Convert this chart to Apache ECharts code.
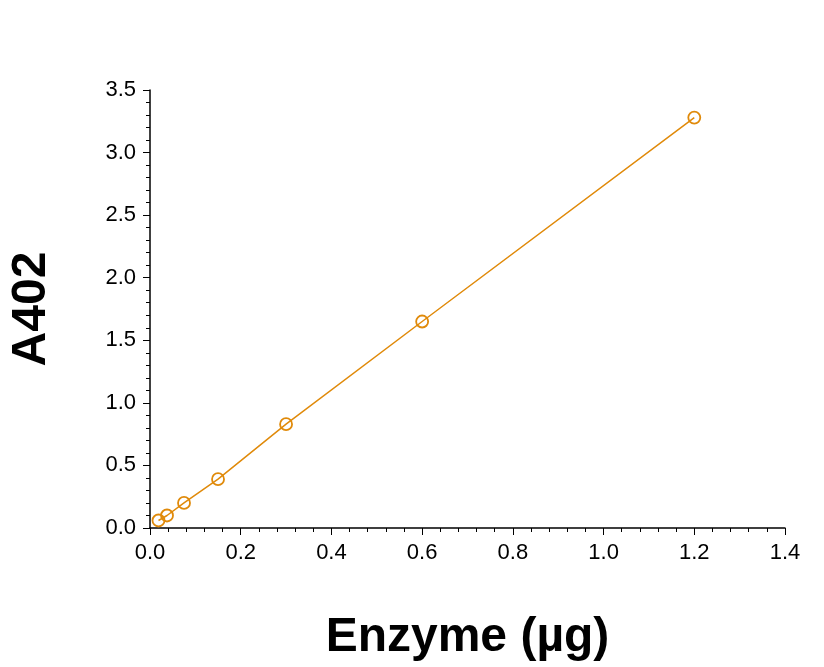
<!DOCTYPE html>
<html><head><meta charset="utf-8">
<script src="https://cdn.jsdelivr.net/npm/echarts@6/dist/echarts.min.js"></script>
<style>html,body{margin:0;background:#fff}#c{width:824px;height:667px}</style>
</head><body><div id="c"></div>
<script>
// enzyme amount (ug) vs absorbance at 402 nm
const enzyme = [0.01875, 0.0375, 0.075, 0.15, 0.3, 0.6, 1.2];
const a402 = [0.06, 0.10, 0.20, 0.39, 0.83, 1.65, 3.28];
const lineColor = '#E08A0A';

const chart = echarts.init(document.getElementById('c'));
const axisText = { fontFamily: 'Arial, Liberation Sans', fontSize: 22, color: '#000' };
const titleText = { fontFamily: 'Arial, Liberation Sans', fontSize: 48, fontWeight: 'bold', color: '#000' };

chart.setOption({
    animation: false,
    grid: { left: 147, right: 39, top: 90, bottom: 132 },
    xAxis: {
        type: 'value', min: 0, max: 1.4, interval: 0.2,
        name: 'Enzyme (µg)', nameLocation: 'middle', nameGap: 86,
        nameTextStyle: titleText,
        axisLine: { lineStyle: { color: '#000', width: 1.5 } },
        axisTick: { length: 7, lineStyle: { color: '#000' } },
        minorTick: { show: true, splitNumber: 5, length: 4, lineStyle: { color: '#000' } },
        axisLabel: Object.assign({ margin: 14, formatter: v => v.toFixed(1) }, axisText),
        splitLine: { show: false }
    },
    yAxis: {
        type: 'value', min: 0, max: 3.5, interval: 0.5,
        name: 'A402', nameLocation: 'middle', nameGap: 94, nameRotate: 90,
        nameTextStyle: titleText,
        axisLine: { show: true, lineStyle: { color: '#000', width: 1.5 } },
        axisTick: { show: true, length: 7, lineStyle: { color: '#000' } },
        minorTick: { show: true, splitNumber: 5, length: 4, lineStyle: { color: '#000' } },
        axisLabel: Object.assign({ margin: 14, formatter: v => v.toFixed(1) }, axisText),
        splitLine: { show: false }
    },
    series: [{
        type: 'line',
        data: enzyme.map((x, i) => [x, a402[i]]),
        symbol: 'circle', symbolSize: 12,
        itemStyle: { color: 'rgba(255,255,255,0)', borderColor: lineColor, borderWidth: 1.8 },
        lineStyle: { color: lineColor, width: 1.5 }
    }]
});
</script></body></html>
